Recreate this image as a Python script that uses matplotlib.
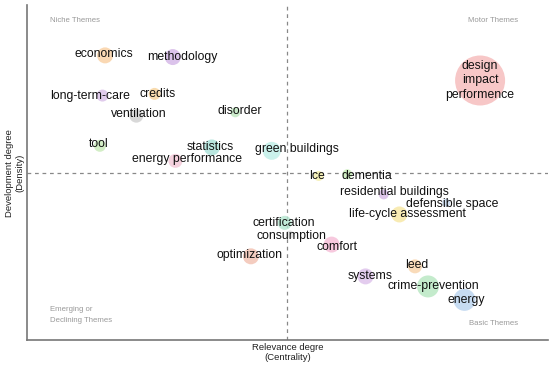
import numpy as np
import matplotlib
matplotlib.use("Agg")
import matplotlib.pyplot as plt

plt.rcParams['font.family'] = ['Liberation Sans', 'DejaVu Sans']

# themes, centrality (x), density (y), bubble size (relative)
themes = ['economics', 'methodology', 'long-term-care', 'credits', 'ventilation',
          'disorder', 'tool', 'statistics', 'energy performance', 'green buildings',
          'design\nimpact\nperformence', 'lce', 'dementia', 'residential buildings',
          'defensible space', 'life-cycle assessment', 'certification', 'consumption',
          'comfort', 'optimization', 'leed', 'systems', 'crime-prevention', 'energy']
centrality = [-0.70, -0.44, -0.71, -0.51, -0.58, -0.20, -0.72, -0.29, -0.43, -0.06,
              0.74, 0.12, 0.23, 0.37, 0.61, 0.43, -0.01, 0.01, 0.17, -0.14,
              0.49, 0.30, 0.54, 0.68]
density = [0.70, 0.69, 0.46, 0.47, 0.34, 0.36, 0.16, 0.15, 0.07, 0.13,
           0.55, -0.02, -0.01, -0.13, -0.18, -0.25, -0.30, -0.37, -0.43, -0.50,
           -0.56, -0.62, -0.68, -0.76]
size = [8, 8, 6, 6, 7, 5, 6, 8, 7, 9,
        25, 5, 5, 5, 4, 8, 7, 4, 8, 8,
        7, 8, 11, 11]

colors = ['#f9cfa0', '#d3b4e6', '#d9bfe8', '#f7d29a', '#cfcfcf',
          '#bfe6bf', '#c8eab8', '#a8e0d8', '#f3c6d6', '#bdeee6',
          '#f6b9b9', '#f4eeaa', '#c6ecb6', '#d6b8e4',
          '#c2d6ee', '#f7e6a0', '#b4e6d0', '#dcdcdc',
          '#f5bcd6', '#f2c0b0', '#f8d2a8', '#dcc0ea', '#b6e6c0', '#b8d2ee']

# label offsets in points (dx, dy)
offsets = [(-1, 1), (7, 0), (-9, 0), (2, 0), (2, 1), (3, 1), (-1, 1), (-1, 0), (8, 1), (18, 1),
           (0, 0), (-1, 0), (14, -1), (8, 2), (4, -1), (6, 0), (-1, 0), (1, -1),
           (4, -2), (-1, 1), (1, 1), (3, 0), (4, 0), (1, 0)]

fig, ax = plt.subplots(figsize=(5.5, 3.68), dpi=100)
fig.subplots_adjust(left=0.049, right=0.996, top=0.986, bottom=0.076)

s = [(2 * r * 0.72) ** 2 for r in size]
ax.scatter(centrality, density, s=s, c=colors, alpha=0.8, edgecolors='none', zorder=2)

for i, t in enumerate(themes):
    ax.annotate(t, (centrality[i], density[i]), xytext=offsets[i], textcoords='offset points',
                ha='center', va='center', fontsize=8.8, color='#111111',
                linespacing=1.25, zorder=3)

ax.axvline(0, color='#888888', ls=(0, (3, 3)), lw=0.9, zorder=1)
ax.axhline(0, color='#888888', ls=(0, (3, 3)), lw=0.9, zorder=1)

ax.set_xlim(-1, 1)
ax.set_ylim(-1, 1)
ax.set_xticks([])
ax.set_yticks([])
for side in ['top', 'right']:
    ax.spines[side].set_visible(False)
for side in ['left', 'bottom']:
    ax.spines[side].set_color('#777777')
    ax.spines[side].set_linewidth(1.2)

qc = '#999999'
ax.text(0.045, 0.955, 'Niche Themes', transform=ax.transAxes, fontsize=5.6, color=qc, va='center')
ax.text(0.943, 0.955, 'Motor Themes', transform=ax.transAxes, fontsize=5.6, color=qc,
        va='center', ha='right')
ax.text(0.045, 0.075, 'Emerging or\nDeclining Themes', transform=ax.transAxes, fontsize=5.6,
        color=qc, va='center', linespacing=1.8)
ax.text(0.943, 0.05, 'Basic Themes', transform=ax.transAxes, fontsize=5.6, color=qc,
        va='center', ha='right')

ax.set_xlabel('Relevance degre\n(Centrality)', fontsize=6.8, color='#222222', labelpad=2,
              linespacing=1.2)
ax.set_ylabel('Development degree\n(Density)', fontsize=6.8, color='#222222', labelpad=2,
              linespacing=1.2)

fig.savefig('out.png', dpi=100)
